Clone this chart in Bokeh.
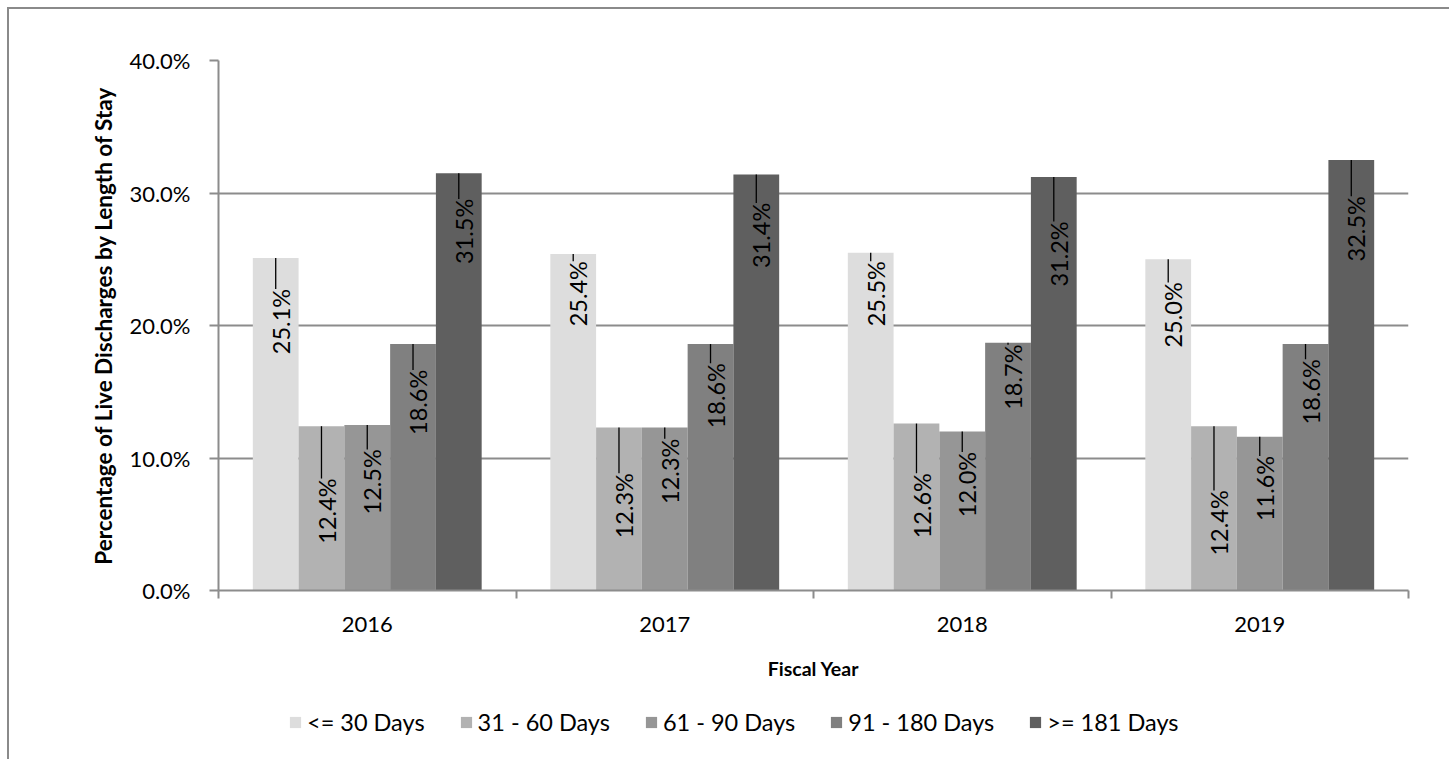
import math
from bokeh.plotting import figure
from bokeh.layouts import column
from bokeh.models import (ColumnDataSource, FixedTicker, PrintfTickFormatter,
                          Legend, LegendItem, Range1d)
from bokeh.embed import file_html
from bokeh.resources import INLINE
from bokeh.core.properties import value

# ---------------- data ----------------
years = ["2016", "2017", "2018", "2019"]
series_names = ["<= 30 Days", "31 - 60 Days", "61 - 90 Days", "91 - 180 Days", ">= 181 Days"]
days_le_30 = [25.1, 25.4, 25.5, 25.0]
days_31_60 = [12.4, 12.3, 12.6, 12.4]
days_61_90 = [12.5, 12.3, 12.0, 11.6]
days_91_180 = [18.6, 18.6, 18.7, 18.6]
days_ge_181 = [31.5, 31.4, 31.2, 32.5]
y_ticks = [0, 10, 20, 30, 40]

# ---------------- style ----------------
colors = ["#DDDDDD", "#B2B2B2", "#969696", "#808080", "#5F5F5F"]
# how far (in % points) each data label sits below its bar top (manual Excel placement)
label_drop = [
    [4.8, 3.0, 3.1, 4.2],
    [6.4, 5.9, 6.2, 7.3],
    [4.3, 3.3, 4.0, 3.9],
    [4.4, 3.9, 2.6, 3.6],
    [4.4, 4.6, 5.8, 5.2],
]
FONT = "Lato"
GRID = "#8C8C8C"
label_half = 2.45      # half length of a rotated label, in % points
label_dx = 0.017       # label shift right of bar centre, in category units

all_series = [days_le_30, days_31_60, days_61_90, days_91_180, days_ge_181]
n_series = len(all_series)
bw = 1.0 / (n_series + 1.5)   # gap width 150%

p = figure(width=1440, height=700, output_backend="svg", toolbar_location=None,
           x_range=Range1d(0, len(years)), y_range=Range1d(0, 40),
           min_border_left=209, min_border_right=41, min_border_top=51,
           min_border_bottom=119)
p.outline_line_color = None
p.background_fill_color = "white"
p.border_fill_color = "white"

renderers = []
for j, vals in enumerate(all_series):
    xs = [i + 0.5 + (j - (n_series - 1) / 2) * bw for i in range(len(years))]
    src = ColumnDataSource(dict(x=xs, top=vals))
    r = p.vbar(x="x", top="top", width=bw, source=src, fill_color=colors[j],
               line_color=None)
    renderers.append(r)

    lx = [x + label_dx for x in xs]
    ly = [v - d for v, d in zip(vals, label_drop[j])]
    txt = [f"{v:.1f}%" for v in vals]
    p.text(x=lx, y=ly, text=txt, angle=math.pi / 2, text_align="center",
           text_baseline="middle", text_font=value(FONT), text_font_size="23.5px",
           text_color="black")
    # leader lines from bar top to label end
    sx0, sy0, sy1 = [], [], []
    for x, v, y in zip(xs, vals, ly):
        end = y + label_half
        if v > end + 0.1:
            sx0.append(x)
            sy0.append(v)
            sy1.append(end)
    if sx0:
        p.segment(x0=sx0, y0=sy0, x1=sx0, y1=sy1, line_color="black", line_width=1.3)

# grid
p.xgrid.visible = False
p.ygrid.ticker = FixedTicker(ticks=y_ticks)
p.ygrid.grid_line_color = GRID
p.ygrid.grid_line_width = 2

# x axis
xa = p.xaxis[0]
xa.ticker = FixedTicker(ticks=[i + 0.5 for i in range(len(years))],
                        minor_ticks=list(range(len(years) + 1)))
xa.major_label_overrides = {i + 0.5: y for i, y in enumerate(years)}
xa.major_tick_line_color = None
xa.major_tick_out = 0
xa.major_tick_in = 0
xa.minor_tick_line_color = GRID
xa.minor_tick_line_width = 2
xa.minor_tick_out = 8
xa.minor_tick_in = 0
xa.axis_line_color = GRID
xa.axis_line_width = 2
xa.major_label_text_font = FONT
xa.major_label_text_font_size = "22px"
xa.major_label_text_color = "black"
xa.major_label_standoff = 18
xa.axis_label = "Fiscal Year"
xa.axis_label_text_font = FONT
xa.axis_label_text_font_size = "19.5px"
xa.axis_label_text_font_style = "bold"
xa.axis_label_text_color = "black"
xa.axis_label_standoff = 22

# y axis
ya = p.yaxis[0]
ya.ticker = FixedTicker(ticks=y_ticks, minor_ticks=[])
ya.formatter = PrintfTickFormatter(format="%.1f%%")
ya.major_tick_line_color = GRID
ya.major_tick_line_width = 2
ya.major_tick_out = 9
ya.major_tick_in = 0
ya.minor_tick_line_color = None
ya.axis_line_color = GRID
ya.axis_line_width = 2
ya.major_label_text_font = FONT
ya.major_label_text_font_size = "22px"
ya.major_label_text_color = "black"
ya.major_label_standoff = 19
ya.axis_label = "Percentage of Live Discharges by Length of Stay"
ya.axis_label_text_font = FONT
ya.axis_label_text_font_size = "22.5px"
ya.axis_label_text_font_style = "bold"
ya.axis_label_text_color = "black"
ya.axis_label_standoff = 9

# ---------------- legend strip ----------------
lg = figure(width=1440, height=50, output_backend="svg", toolbar_location=None,
            x_range=Range1d(0, 1), y_range=Range1d(0, 1),
            min_border_left=209, min_border_right=41, min_border_top=0,
            min_border_bottom=0)
lg.axis.visible = False
lg.grid.visible = False
lg.outline_line_color = None
lg.background_fill_color = "white"
lg.border_fill_color = "white"
# zero-size swatch carriers: they draw nothing, only give the legend its colours
lg_renderers = [lg.rect(x=[0.5], y=[0.5], width=0, height=0, fill_color=c,
                        line_color=None)
                for c in colors]
legend = Legend(items=[LegendItem(label=s, renderers=[r])
                       for s, r in zip(series_names, lg_renderers)],
                location=(70, 23), orientation="horizontal",
                glyph_width=14, glyph_height=14, label_standoff=5, spacing=34,
                padding=0, margin=0, border_line_color=None,
                background_fill_alpha=0,
                label_text_font=FONT, label_text_font_size="23.5px",
                label_text_color="black")
lg.add_layout(legend)

layout = column(p, lg, spacing=0)
layout.styles = {"margin-left": "7px", "margin-top": "7px",
                 "border-left": "2px solid #8A8A8A", "border-top": "2px solid #8A8A8A"}

open("out.html", "w").write(file_html(layout, INLINE))
